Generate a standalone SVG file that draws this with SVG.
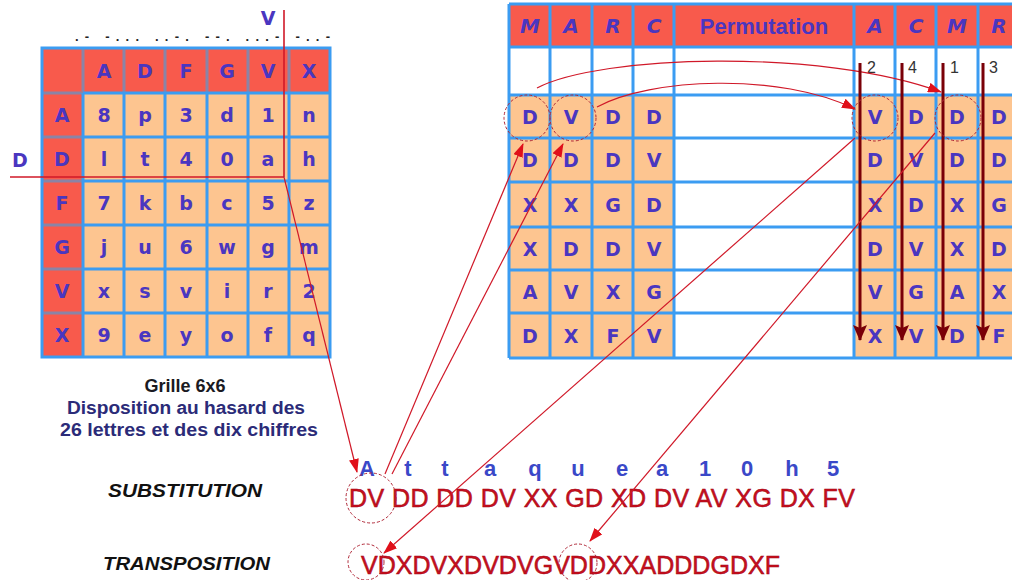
<svg xmlns="http://www.w3.org/2000/svg" width="1012" height="580" viewBox="0 0 1012 580">
  <defs>
    <marker id="arrowRed" markerWidth="14" markerHeight="10" refX="13" refY="5" orient="auto" markerUnits="userSpaceOnUse">
      <path d="M0,0 L14,5 L0,10 z" fill="#e0101a"/>
    </marker>
    <marker id="arrowDark" markerWidth="16" markerHeight="14" refX="15" refY="7" orient="auto" markerUnits="userSpaceOnUse">
      <path d="M0,0 L16,7 L0,14 L3,7 z" fill="#7a0008"/>
    </marker>
    <style>
      .cell { font-family: "DejaVu Sans", "Liberation Sans", sans-serif; font-weight: bold; font-size: 19px; fill: #4a36c0; text-anchor: middle; }
      .hdr { font-family: "DejaVu Sans", "Liberation Sans", sans-serif; font-weight: bold; font-style: italic; font-size: 20px; fill: #4a36c0; text-anchor: middle; }
      .blue { stroke: #3b9cf2; stroke-width: 3; }
      .gray { stroke: #8a84a6; stroke-width: 3; }
      .num { font-family: "Liberation Sans", Arial, sans-serif; font-size: 16px; fill: #333; }
      .ring { fill: none; stroke: #b02838; stroke-width: 1; stroke-dasharray: 3 2; }
      .link { fill: none; stroke: #d01828; stroke-width: 1.2; }
      .drop { stroke: #7a0008; stroke-width: 3; }
      .red { font-family: "Liberation Sans", Arial, sans-serif; font-size: 25px; fill: #c8101e; stroke: #a00010; stroke-width: 0.5; }
      .label { font-family: "Liberation Sans", Arial, sans-serif; font-weight: bold; font-style: italic; font-size: 18px; fill: #111; }
    </style>
  </defs>

  <rect width="1012" height="580" fill="#ffffff"/>

  <!-- Polybius square 6x6 -->
  <g id="grid-6x6">
    <rect x="42" y="48" width="288" height="309" fill="#fdc590"/>
    <rect x="42" y="48" width="288" height="45" fill="#f85a4c"/>
    <rect x="42" y="48" width="41" height="309" fill="#f85a4c"/>
    <!-- separators inside the red header band -->
    <g class="gray">
      <line x1="83" y1="48" x2="83" y2="93"/>
      <line x1="124" y1="48" x2="124" y2="93"/>
      <line x1="165" y1="48" x2="165" y2="93"/>
      <line x1="207" y1="48" x2="207" y2="93"/>
      <line x1="248" y1="48" x2="248" y2="93"/>
      <line x1="289" y1="48" x2="289" y2="93"/>
      <line x1="42" y1="93" x2="83" y2="93"/>
      <line x1="42" y1="137" x2="83" y2="137"/>
      <line x1="42" y1="181" x2="83" y2="181"/>
      <line x1="42" y1="225" x2="83" y2="225"/>
      <line x1="42" y1="269" x2="83" y2="269"/>
      <line x1="42" y1="313" x2="83" y2="313"/>
    </g>
    <g class="blue">
      <line x1="83" y1="93" x2="83" y2="357"/>
      <line x1="124" y1="93" x2="124" y2="357"/>
      <line x1="165" y1="93" x2="165" y2="357"/>
      <line x1="207" y1="93" x2="207" y2="357"/>
      <line x1="248" y1="93" x2="248" y2="357"/>
      <line x1="289" y1="93" x2="289" y2="357"/>
      <line x1="83" y1="93" x2="330" y2="93"/>
      <line x1="83" y1="137" x2="330" y2="137"/>
      <line x1="83" y1="181" x2="330" y2="181"/>
      <line x1="83" y1="225" x2="330" y2="225"/>
      <line x1="83" y1="269" x2="330" y2="269"/>
      <line x1="83" y1="313" x2="330" y2="313"/>
      <rect x="42" y="48" width="288" height="309" fill="none"/>
    </g>
    <!-- column keys -->
    <text class="cell" y="78"><tspan x="104">A</tspan><tspan x="145">D</tspan><tspan x="186">F</tspan><tspan x="227">G</tspan><tspan x="268">V</tspan><tspan x="309">X</tspan></text>
    <!-- row keys -->
    <text class="cell" x="62" y="122">A</text>
    <text class="cell" x="62" y="166">D</text>
    <text class="cell" x="62" y="210">F</text>
    <text class="cell" x="62" y="254">G</text>
    <text class="cell" x="62" y="298">V</text>
    <text class="cell" x="62" y="342">X</text>
    <!-- contents -->
    <text class="cell" y="122"><tspan x="104">8</tspan><tspan x="145">p</tspan><tspan x="186">3</tspan><tspan x="227">d</tspan><tspan x="268">1</tspan><tspan x="309">n</tspan></text>
    <text class="cell" y="166"><tspan x="104">l</tspan><tspan x="145">t</tspan><tspan x="186">4</tspan><tspan x="227">0</tspan><tspan x="268">a</tspan><tspan x="309">h</tspan></text>
    <text class="cell" y="210"><tspan x="104">7</tspan><tspan x="145">k</tspan><tspan x="186">b</tspan><tspan x="227">c</tspan><tspan x="268">5</tspan><tspan x="309">z</tspan></text>
    <text class="cell" y="254"><tspan x="104">j</tspan><tspan x="145">u</tspan><tspan x="186">6</tspan><tspan x="227">w</tspan><tspan x="268">g</tspan><tspan x="309">m</tspan></text>
    <text class="cell" y="298"><tspan x="104">x</tspan><tspan x="145">s</tspan><tspan x="186">v</tspan><tspan x="227">i</tspan><tspan x="268">r</tspan><tspan x="309">2</tspan></text>
    <text class="cell" y="342"><tspan x="104">9</tspan><tspan x="145">e</tspan><tspan x="186">y</tspan><tspan x="227">o</tspan><tspan x="268">f</tspan><tspan x="309">q</tspan></text>
  </g>

  <!-- Morse line and coordinate labels -->
  <g id="grid-labels">
    <text x="75" y="41" font-family="Liberation Sans, Arial, sans-serif" font-size="13" font-weight="bold" fill="#222" textLength="255" lengthAdjust="spacing">.- -... ..-. --. ...- -..-</text>
    <text x="268" y="25" font-family="DejaVu Sans, sans-serif" font-weight="bold" font-size="19" fill="#4a36c0" text-anchor="middle">V</text>
    <text x="20" y="167" font-family="DejaVu Sans, sans-serif" font-weight="bold" font-size="19" fill="#4a36c0" text-anchor="middle">D</text>
  </g>

  <g id="grid-caption" font-family="Liberation Sans, Arial, sans-serif" font-weight="bold" text-anchor="middle">
    <text x="185" y="392" font-size="18" fill="#1a1a22">Grille 6x6</text>
    <text x="186" y="414" font-size="17.5" fill="#2b2b78" textLength="238" lengthAdjust="spacingAndGlyphs">Disposition au hasard des</text>
    <text x="189" y="436" font-size="17.5" fill="#2b2b78" textLength="258" lengthAdjust="spacingAndGlyphs">26 lettres et des dix chiffres</text>
  </g>

  <!-- Transposition table with key MARC -->
  <g id="transposition-table">
    <rect x="509" y="4" width="510" height="354" fill="#ffffff"/>
    <rect x="509" y="4" width="510" height="43" fill="#f85a4c"/>
    <rect x="509" y="95" width="165" height="263" fill="#fdc590"/>
    <rect x="854" y="95" width="165" height="263" fill="#fdc590"/>
    <g class="blue">
      <line x1="509" y1="4" x2="509" y2="358"/>
      <line x1="550" y1="4" x2="550" y2="358"/>
      <line x1="592" y1="4" x2="592" y2="358"/>
      <line x1="633" y1="4" x2="633" y2="358"/>
      <line x1="674" y1="4" x2="674" y2="358"/>
      <line x1="854" y1="4" x2="854" y2="358"/>
      <line x1="895" y1="4" x2="895" y2="358"/>
      <line x1="936" y1="4" x2="936" y2="358"/>
      <line x1="978" y1="4" x2="978" y2="358"/>
      <line x1="509" y1="4" x2="1012" y2="4"/>
      <line x1="509" y1="47" x2="1012" y2="47"/>
      <line x1="509" y1="95" x2="1012" y2="95"/>
      <line x1="509" y1="138" x2="1012" y2="138"/>
      <line x1="509" y1="182" x2="1012" y2="182"/>
      <line x1="509" y1="227" x2="1012" y2="227"/>
      <line x1="509" y1="270" x2="1012" y2="270"/>
      <line x1="509" y1="313" x2="1012" y2="313"/>
      <line x1="509" y1="358" x2="1012" y2="358"/>
    </g>
    <text class="hdr" y="33"><tspan x="530">M</tspan><tspan x="571">A</tspan><tspan x="613">R</tspan><tspan x="654">C</tspan><tspan x="875">A</tspan><tspan x="916">C</tspan><tspan x="957">M</tspan><tspan x="999">R</tspan></text>
    <text x="764" y="34" font-family="Liberation Sans, Arial, sans-serif" font-weight="bold" font-size="22" fill="#4a36c0" text-anchor="middle">Permutation</text>
    <text class="num" y="73"><tspan x="867">2</tspan><tspan x="908">4</tspan><tspan x="950">1</tspan><tspan x="989">3</tspan></text>
    <!-- columns in key order -->
    <text class="cell" y="124"><tspan x="530">D</tspan><tspan x="571">V</tspan><tspan x="613">D</tspan><tspan x="654">D</tspan><tspan x="875">V</tspan><tspan x="916">D</tspan><tspan x="957">D</tspan><tspan x="999">D</tspan></text>
    <text class="cell" y="167"><tspan x="530">D</tspan><tspan x="571">D</tspan><tspan x="613">D</tspan><tspan x="654">V</tspan><tspan x="875">D</tspan><tspan x="916">V</tspan><tspan x="957">D</tspan><tspan x="999">D</tspan></text>
    <text class="cell" y="212"><tspan x="530">X</tspan><tspan x="571">X</tspan><tspan x="613">G</tspan><tspan x="654">D</tspan><tspan x="875">X</tspan><tspan x="916">D</tspan><tspan x="957">X</tspan><tspan x="999">G</tspan></text>
    <text class="cell" y="256"><tspan x="530">X</tspan><tspan x="571">D</tspan><tspan x="613">D</tspan><tspan x="654">V</tspan><tspan x="875">D</tspan><tspan x="916">V</tspan><tspan x="957">X</tspan><tspan x="999">D</tspan></text>
    <text class="cell" y="299"><tspan x="530">A</tspan><tspan x="571">V</tspan><tspan x="613">X</tspan><tspan x="654">G</tspan><tspan x="875">V</tspan><tspan x="916">G</tspan><tspan x="957">A</tspan><tspan x="999">X</tspan></text>
    <text class="cell" y="343"><tspan x="530">D</tspan><tspan x="571">X</tspan><tspan x="613">F</tspan><tspan x="654">V</tspan><tspan x="875">X</tspan><tspan x="916">V</tspan><tspan x="957">D</tspan><tspan x="999">F</tspan></text>
  </g>

  <!-- Plain text, substitution and transposition lines -->
  <g id="plaintext">
    <text y="476" font-family="Liberation Sans, Arial, sans-serif" font-weight="bold" font-size="22" fill="#3a48c8" text-anchor="middle" x="367 408 445 490 535 578 622 662 705 747 792 833">Attaquea10h5</text>
  </g>
  <g id="substitution">
    <text class="label" x="108" y="497" textLength="154" lengthAdjust="spacingAndGlyphs">SUBSTITUTION</text>
    <text class="red" x="349" y="507" textLength="506" lengthAdjust="spacing">DV DD DD DV XX GD XD DV AV XG DX FV</text>
  </g>
  <g id="transposition">
    <text class="label" x="103" y="570" textLength="167" lengthAdjust="spacingAndGlyphs">TRANSPOSITION</text>
    <text class="red" x="361" y="574" textLength="419" lengthAdjust="spacing">VDXDVXDVDVGVDDXXADDDGDXF</text>
  </g>

  <!-- Connectors -->
  <g id="connectors">
    <!-- coordinate lookup in the square -->
    <line x1="284" y1="10" x2="284" y2="177" stroke="#d01828" stroke-width="1.6"/>
    <line x1="10" y1="177" x2="284" y2="177" stroke="#d01828" stroke-width="1.6"/>
    <line class="link" x1="284" y1="177" x2="357" y2="472" marker-end="url(#arrowRed)"/>
    <!-- substituted pair written into the table -->
    <line class="link" x1="385" y1="474" x2="523" y2="144" marker-end="url(#arrowRed)"/>
    <line class="link" x1="392" y1="474" x2="563" y2="144" marker-end="url(#arrowRed)"/>
    <!-- columns moved into key order -->
    <path class="link" d="M537,88 C600,55 820,48 941,92" marker-end="url(#arrowRed)"/>
    <path class="link" d="M597,107 C650,78 780,72 855,109" marker-end="url(#arrowRed)"/>
    <!-- columns read out top to bottom -->
    <line class="drop" x1="860" y1="63" x2="860" y2="340" marker-end="url(#arrowDark)"/>
    <line class="drop" x1="902" y1="63" x2="902" y2="340" marker-end="url(#arrowDark)"/>
    <line class="drop" x1="943" y1="63" x2="943" y2="340" marker-end="url(#arrowDark)"/>
    <line class="drop" x1="983" y1="63" x2="983" y2="340" marker-end="url(#arrowDark)"/>
    <!-- column starts into the cipher text -->
    <line class="link" x1="855" y1="138" x2="384" y2="553" marker-end="url(#arrowRed)"/>
    <line class="link" x1="935" y1="133" x2="590" y2="541" marker-end="url(#arrowRed)"/>
    <!-- highlighted letters -->
    <circle class="ring" cx="527" cy="118" r="23"/>
    <circle class="ring" cx="573" cy="118" r="23"/>
    <circle class="ring" cx="875" cy="118" r="23"/>
    <circle class="ring" cx="958" cy="118" r="23"/>
    <circle class="ring" cx="371" cy="498" r="25"/>
    <circle class="ring" cx="366" cy="562" r="18"/>
    <circle class="ring" cx="578" cy="563" r="19"/>
  </g>
</svg>
